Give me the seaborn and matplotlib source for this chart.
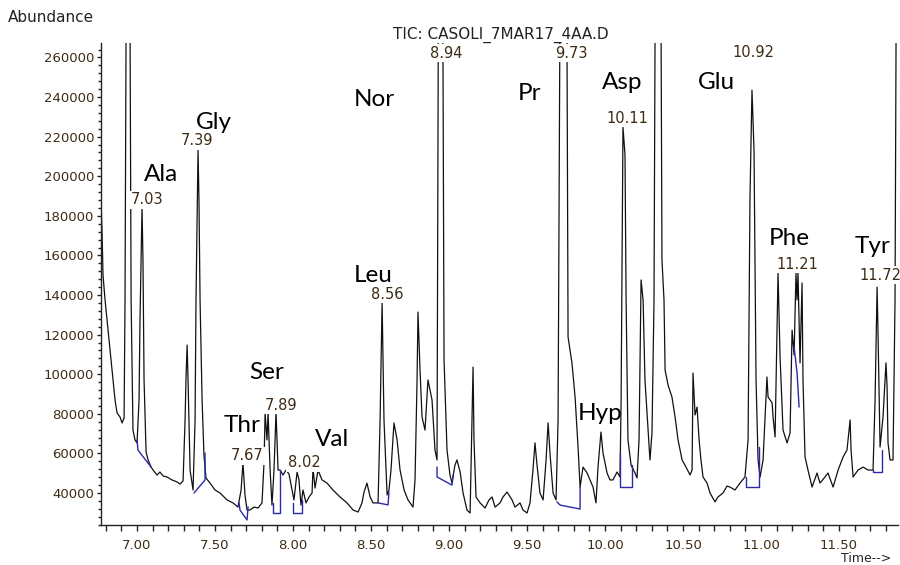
import numpy as np
import pandas as pd
import matplotlib
matplotlib.use("Agg")
import matplotlib.pyplot as plt
import seaborn as sns
from matplotlib.ticker import MultipleLocator, FormatStrFormatter

# ---- data (time in min, abundance in counts) ----
times = [
    6.769, 6.776, 6.782, 6.795, 6.808, 6.827, 6.846, 6.859, 6.872, 6.891,
    6.904, 6.917, 6.923, 6.936, 6.949, 6.962, 6.974, 6.987, 7.000, 7.013,
    7.019, 7.032, 7.038, 7.045, 7.058, 7.071, 7.090, 7.103, 7.128, 7.147,
    7.167, 7.192, 7.224, 7.256, 7.276, 7.295, 7.308, 7.314, 7.321, 7.327,
    7.340, 7.359, 7.372, 7.378, 7.391, 7.397, 7.404, 7.417, 7.429, 7.442,
    7.468, 7.500, 7.532, 7.577, 7.615, 7.647, 7.667, 7.679, 7.692, 7.705,
    7.724, 7.750, 7.776, 7.801, 7.814, 7.821, 7.833, 7.840, 7.853, 7.865,
    7.878, 7.891, 7.904, 7.917, 7.936, 7.955, 7.974, 7.994, 8.006, 8.026,
    8.038, 8.051, 8.064, 8.083, 8.103, 8.122, 8.128, 8.141, 8.160, 8.186,
    8.218, 8.256, 8.301, 8.346, 8.385, 8.417, 8.442, 8.455, 8.474, 8.494,
    8.513, 8.545, 8.558, 8.571, 8.583, 8.603, 8.615, 8.628, 8.647, 8.667,
    8.686, 8.712, 8.737, 8.769, 8.782, 8.795, 8.801, 8.814, 8.827, 8.846,
    8.865, 8.878, 8.891, 8.910, 8.923, 8.936, 8.955, 8.968, 8.987, 9.006,
    9.019, 9.038, 9.051, 9.071, 9.090, 9.115, 9.135, 9.147, 9.154, 9.160,
    9.173, 9.199, 9.231, 9.256, 9.276, 9.295, 9.327, 9.346, 9.372, 9.404,
    9.423, 9.455, 9.474, 9.500, 9.519, 9.538, 9.551, 9.564, 9.583, 9.603,
    9.622, 9.635, 9.647, 9.667, 9.686, 9.699, 9.718, 9.750, 9.763, 9.788,
    9.808, 9.827, 9.840, 9.859, 9.885, 9.904, 9.923, 9.942, 9.955, 9.974,
    9.987, 10.013, 10.032, 10.051, 10.077, 10.096, 10.103, 10.115, 10.128, 10.135,
    10.147, 10.167, 10.192, 10.205, 10.218, 10.231, 10.244, 10.256, 10.276, 10.288,
    10.301, 10.314, 10.327, 10.353, 10.365, 10.378, 10.385, 10.404, 10.429, 10.449,
    10.468, 10.494, 10.519, 10.545, 10.558, 10.564, 10.577, 10.590, 10.603, 10.615,
    10.628, 10.654, 10.673, 10.705, 10.724, 10.756, 10.782, 10.801, 10.833, 10.865,
    10.897, 10.917, 10.929, 10.942, 10.955, 10.968, 10.981, 10.994, 11.013, 11.038,
    11.045, 11.058, 11.071, 11.077, 11.090, 11.103, 11.109, 11.122, 11.141, 11.167,
    11.186, 11.199, 11.212, 11.224, 11.231, 11.237, 11.250, 11.263, 11.269, 11.282,
    11.301, 11.327, 11.359, 11.378, 11.410, 11.429, 11.462, 11.494, 11.526, 11.551,
    11.571, 11.577, 11.590, 11.622, 11.654, 11.686, 11.718, 11.731, 11.744, 11.750,
    11.763, 11.782, 11.801, 11.808, 11.814, 11.827, 11.846, 11.859, 11.872,
]

abundance = [
    188000, 170300, 150100, 137500, 127400, 112200, 97100, 87000, 80400, 78400,
    75400, 77900, 137500, 400000, 400000, 137500, 71800, 66800, 65300, 87000,
    127400, 184400, 157700, 97100, 60700, 56700, 53100, 51600, 49100, 50600,
    48600, 48100, 46600, 45600, 44500, 46100, 76900, 98100, 114700, 97100,
    51600, 41500, 76900, 137500, 213200, 188000, 137500, 87000, 59200, 47600,
    45000, 41500, 40000, 36500, 35000, 32900, 41500, 55200, 39000, 31400,
    31400, 32900, 32400, 35000, 55200, 80400, 66800, 80400, 51600, 33900,
    51600, 80900, 51600, 51600, 49100, 51600, 49600, 41500, 36500, 50600,
    46600, 33900, 41500, 35000, 38000, 40000, 52600, 42500, 51600, 46600,
    45000, 41500, 38000, 35000, 31400, 30400, 35000, 40500, 45000, 38000,
    35000, 35000, 76900, 136500, 76900, 39000, 41500, 51600, 75400, 66800,
    51600, 41500, 36500, 32900, 46600, 97100, 131400, 102100, 78400, 71800,
    97100, 92000, 87000, 61700, 56700, 400000, 400000, 107200, 61700, 49100,
    45000, 54100, 56700, 50600, 40000, 31400, 29900, 76900, 103600, 66800,
    38000, 35000, 32400, 36500, 38000, 32900, 35000, 38000, 40500, 36500,
    32900, 35000, 31400, 29900, 35000, 51600, 65300, 54100, 40000, 36500,
    56700, 75400, 60200, 40000, 36500, 76900, 400000, 400000, 118800, 105700,
    88500, 63200, 43000, 53100, 50100, 46600, 43000, 35000, 53100, 70800,
    60200, 50100, 46600, 46600, 50600, 48100, 87000, 224800, 210700, 137500,
    66800, 54100, 50100, 47600, 66800, 147600, 137500, 97100, 71800, 56700,
    70300, 137500, 400000, 400000, 157700, 137500, 102100, 94500, 88500, 78400,
    66800, 56700, 53100, 49100, 51600, 100600, 79400, 83400, 66800, 56700,
    48100, 45000, 40000, 35500, 38000, 40000, 43500, 43000, 41500, 45000,
    48100, 66800, 188000, 243500, 213200, 97100, 56700, 48100, 56700, 98600,
    88500, 87000, 85500, 78400, 68300, 123800, 151100, 108700, 71800, 65300,
    70300, 122300, 109700, 151100, 137500, 151100, 105700, 146100, 97100, 58200,
    51600, 43000, 50100, 45000, 48100, 50100, 43000, 51600, 58200, 61700,
    76900, 61700, 48100, 51600, 53100, 51600, 51600, 87000, 144000, 120800,
    63200, 78400, 105700, 93500, 65300, 56700, 56700, 137500, 400000,
]

# integration baselines (blue)
baseline_times = [
    [7.000, 7.006, 7.090],
    [7.365, 7.436, 7.436],
    [7.654, 7.660, 7.705, 7.712],
    [7.872, 7.872, 7.917, 7.917],
    [8.000, 8.000, 8.058, 8.058],
    [8.545, 8.609, 8.615],
    [8.923, 8.923, 9.019, 9.026],
    [9.692, 9.712, 9.840, 9.840],
    [10.096, 10.096, 10.173, 10.173],
    [10.904, 10.904, 10.987, 10.987],
    [11.212, 11.231, 11.244],
    [11.718, 11.718, 11.776, 11.776],
]
baseline_values = [
    [66800, 61700, 53100],
    [40000, 46600, 60200],
    [35000, 31400, 26400, 33000],
    [35000, 29900, 29900, 51600],
    [35000, 29900, 29900, 36500],
    [35000, 34000, 40500],
    [53100, 48100, 44000, 49100],
    [35500, 33900, 31900, 43000],
    [60200, 43000, 43000, 54100],
    [48100, 43000, 43000, 63200],
    [113700, 100600, 83400],
    [51600, 50600, 50600, 61700],
]

# retention-time labels
rt_labels = ["7.03", "7.39", "7.67", "7.89", "8.02", "8.56", "8.94", "9.73",
             "10.11", "10.92", "11.21", "11.72"]
rt_label_t = [7.064, 7.385, 7.705, 7.923, 8.071, 8.603, 8.981, 9.782,
              10.141, 10.949, 11.231, 11.763]
rt_label_a = [188000, 217800, 58700, 84400, 55200, 140500, 262200, 262200,
              229400, 262700, 155600, 150100]

# compound labels
compounds = ["Ala", "Gly", "Thr", "Ser", "Val", "Leu", "Nor", "Pr", "Asp",
             "Glu", "Hyp", "Phe", "Tyr"]
compound_t = [7.154, 7.494, 7.673, 7.833, 8.250, 8.513, 8.519, 9.513, 10.109,
              10.712, 9.968, 11.179, 11.712]
compound_a = [201100, 226900, 74300, 101100, 66800, 150100, 239000, 242000,
              247600, 247600, 80400, 168800, 164700]

title = "TIC: CASOLI_7MAR17_4AA.D"

# ---- drawing ----
sns.set_style("ticks")
plt.rcParams['font.family'] = ['DejaVu Sans']

tick_color = "#3d2b14"

fig = plt.figure(figsize=(9, 5.65), dpi=100)
ax = fig.add_axes([101 / 900, 1 - 525 / 565, 797 / 900, 482 / 565])

df = pd.DataFrame({"time": times, "abundance": abundance})
sns.lineplot(data=df, x="time", y="abundance", sort=False, estimator=None,
             color="#111111", linewidth=0.9, ax=ax)
for bt, ba in zip(baseline_times, baseline_values):
    sns.lineplot(x=bt, y=ba, sort=False, estimator=None, color="#2a2aa8",
                 linewidth=1.0, ax=ax)

ax.set_xlim(6.769, 11.878)
ax.set_ylim(23840, 267300)
ax.set_xlabel("")
ax.set_ylabel("")

for s in ["top", "right"]:
    ax.spines[s].set_visible(False)
for s in ["left", "bottom"]:
    ax.spines[s].set_color("#222222")
    ax.spines[s].set_linewidth(1.0)

ax.xaxis.set_major_locator(MultipleLocator(0.5))
ax.xaxis.set_minor_locator(MultipleLocator(0.1))
ax.xaxis.set_major_formatter(FormatStrFormatter("%.2f"))
ax.yaxis.set_major_locator(MultipleLocator(20000))
ax.yaxis.set_minor_locator(MultipleLocator(4000))
ax.yaxis.set_major_formatter(FormatStrFormatter("%d"))

ax.tick_params(axis="x", which="both", direction="out", length=4, width=1,
               color="#222222", labelsize=9.5, labelcolor=tick_color, pad=6)
ax.tick_params(axis="y", which="major", direction="out", length=3, width=1,
               color="#222222", labelsize=9.5, labelcolor=tick_color, pad=2)
ax.tick_params(axis="y", which="minor", direction="out", length=2, width=1,
               color="#222222")

for lab, t, a in zip(rt_labels, rt_label_t, rt_label_a):
    ax.text(t, a, lab, ha="center", va="center", fontsize=10.5,
            color=tick_color, clip_on=False, zorder=5,
            bbox=dict(facecolor="white", edgecolor="none", pad=1.0))

for lab, t, a in zip(compounds, compound_t, compound_a):
    ax.text(t, a, lab, ha="center", va="center", fontsize=17.5,
            family=["Lato", "DejaVu Sans"], color="black", clip_on=False)

fig.text(501 / 900, 1 - 35 / 565, title, ha="center", va="center",
         fontsize=11, color="#222222")
fig.text(8 / 900, 1 - 18 / 565, "Abundance", ha="left", va="center",
         fontsize=11, color="#222222")
fig.text(866 / 900, 1 - 558 / 565, "Time-->", ha="center", va="center",
         fontsize=9, color="#222222")

fig.savefig("out.png", dpi=100)
